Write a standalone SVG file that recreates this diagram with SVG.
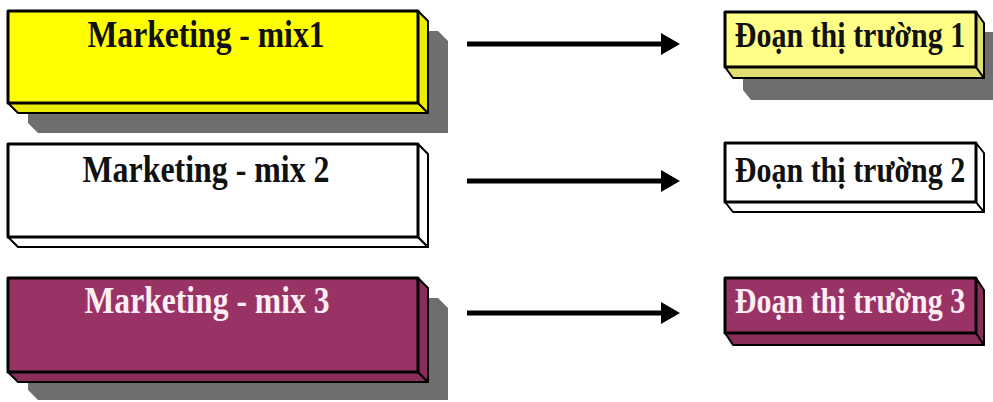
<svg xmlns="http://www.w3.org/2000/svg" width="993" height="402" viewBox="0 0 993 402">
<style>
.face{stroke:#000;stroke-width:3;stroke-linejoin:round}
.side{stroke:#000;stroke-width:2;stroke-linejoin:round}
.shadow{fill:#6e6e6e}
.lbl{font-family:"Liberation Serif","Times New Roman",serif;font-weight:bold}
.big{font-size:37px}
.small{font-size:30px}
.conn line{stroke:#000;stroke-width:5}
.conn polygon{fill:#000}
</style>
<rect width="993" height="402" fill="#fff"/>
<g id="mix1">
<polygon class="shadow" points="28,31 438,31 448,41 448,133 38,133 28,123"/>
<polygon class="side" fill="#eded00" points="8,103 418,103 428,113 18,113"/>
<polygon class="side" fill="#eded00" points="418,11 428,21 428,113 418,103"/>
<rect class="face" x="8" y="11" width="410" height="92" fill="#ffff00"/>
<text class="lbl big" x="206" y="47" text-anchor="middle" textLength="237" lengthAdjust="spacingAndGlyphs" fill="#111">Marketing - mix1</text>
</g>
<g id="mix2">
<polygon class="side" fill="#fff" points="8,237 418,237 428,247 18,247"/>
<polygon class="side" fill="#fff" points="418,144 428,154 428,247 418,237"/>
<rect class="face" x="8" y="144" width="410" height="93" fill="#fff"/>
<text class="lbl big" x="206" y="182" text-anchor="middle" textLength="247" lengthAdjust="spacingAndGlyphs" fill="#111">Marketing - mix 2</text>
</g>
<g id="mix3">
<polygon class="shadow" points="28,298 438,298 448,308 448,400 38,400 28,390"/>
<polygon class="side" fill="#8a2d5a" points="8,372 418,372 428,382 18,382"/>
<polygon class="side" fill="#8a2d5a" points="418,278 428,288 428,382 418,372"/>
<rect class="face" x="8" y="278" width="410" height="94" fill="#993366"/>
<text class="lbl big" x="207" y="313" text-anchor="middle" textLength="245" lengthAdjust="spacingAndGlyphs" fill="#fdeef4">Marketing - mix 3</text>
</g>
<g id="seg1">
<polygon class="shadow" points="743,32 993,32 993,100 751,100 743,90"/>
<polygon class="side" fill="#e0e070" points="725,67 976,67 984,78 733,78"/>
<polygon class="side" fill="#e0e070" points="976,12 984,23 984,78 976,67"/>
<rect class="face" x="725" y="12" width="251" height="55" fill="#ffff88"/>
<text class="lbl small" transform="translate(850,47) scale(1,1.2)" text-anchor="middle" fill="#111">Đoạn thị trường 1</text>
</g>
<g id="seg2">
<polygon class="side" fill="#fff" points="725,202 976,202 984,212 733,212"/>
<polygon class="side" fill="#fff" points="976,143 984,153 984,212 976,202"/>
<rect class="face" x="725" y="143" width="251" height="59" fill="#fff"/>
<text class="lbl small" transform="translate(850,182) scale(1,1.2)" text-anchor="middle" fill="#111">Đoạn thị trường 2</text>
</g>
<g id="seg3">
<polygon class="side" fill="#8a2d5a" points="725,333 976,333 984,345 733,345"/>
<polygon class="side" fill="#8a2d5a" points="976,278 984,290 984,345 976,333"/>
<rect class="face" x="725" y="278" width="251" height="55" fill="#993366"/>
<text class="lbl small" transform="translate(850,313) scale(1,1.2)" text-anchor="middle" fill="#fdeef4">Đoạn thị trường 3</text>
</g>
<g id="connectors" class="conn">
<line x1="467" y1="44" x2="664" y2="44"/>
<polygon points="661,33 680,44 661,55"/>
<line x1="467" y1="181" x2="664" y2="181"/>
<polygon points="661,170 680,181 661,192"/>
<line x1="467" y1="313" x2="664" y2="313"/>
<polygon points="661,302 680,313 661,324"/>
</g>
</svg>
